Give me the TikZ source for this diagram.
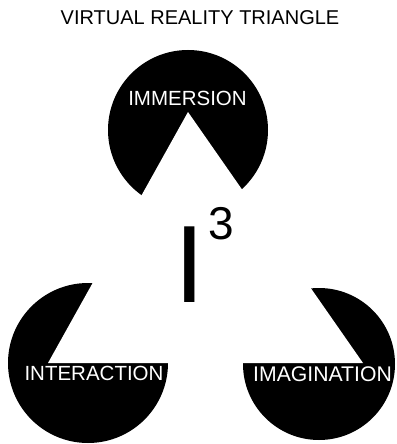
\documentclass[tikz,border=0pt]{standalone}
\usepackage{fontspec}
\setmainfont{Liberation Sans}
\begin{document}
\begin{tikzpicture}[x=1pt,y=-1pt,
  lab/.style={text=white, font=\fontsize{20.5}{24}\selectfont, inner sep=0pt, anchor=base},
  blk/.style={text=black, inner sep=0pt, anchor=base}]
\useasboundingbox (0,0) rectangle (396,444);
% pac-man circles
\fill[black] (188,130) circle[radius=80pt];
\fill[black] (88,363) circle[radius=80pt];
\fill[black] (319,364) circle[radius=76pt];
% illusory triangle
\fill[white] (188,112) -- (48,363) -- (363,363) -- cycle;
% labels
\node[lab] (imm) at (187.5,105) {IMMERSION};
\node[lab] (int) at (94,380) {INTERACTION};
\node[lab, font=\fontsize{21.2}{24}\selectfont] (ima) at (322.5,381) {IMAGINATION};
\node[blk, font=\fontsize{20}{24}\selectfont] (title) at (200,25) {VIRTUAL REALITY TRIANGLE};
\node[blk, font=\fontsize{110}{120}\selectfont] (ii) at (190,302) {I};
\node[blk, font=\fontsize{46}{50}\selectfont] (three) at (221,239.5) {3};
\end{tikzpicture}
\end{document}
